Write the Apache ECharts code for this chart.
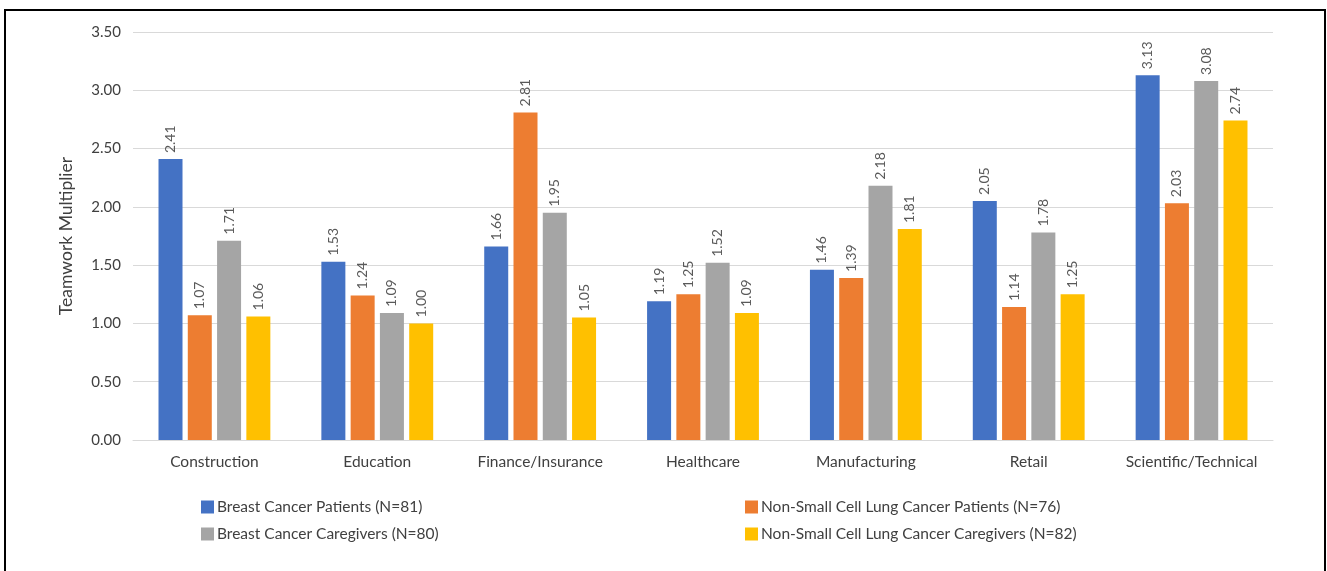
<!DOCTYPE html>
<html>
<head>
<meta charset="utf-8">
<script src="https://cdn.jsdelivr.net/npm/echarts@6/dist/echarts.min.js"></script>
<style>
  html, body { margin: 0; padding: 0; background: #fff; }
  #chart { width: 1327px; height: 571px; }
</style>
</head>
<body>
<div id="chart"></div>
<script>
const categories = ['Construction', 'Education', 'Finance/Insurance', 'Healthcare', 'Manufacturing', 'Retail', 'Scientific/Technical'];
const breastPatients = [2.41, 1.53, 1.66, 1.19, 1.46, 2.05, 3.13];
const nsclcPatients = [1.07, 1.24, 2.81, 1.25, 1.39, 1.14, 2.03];
const breastCaregivers = [1.71, 1.09, 1.95, 1.52, 2.18, 1.78, 3.08];
const nsclcCaregivers = [1.06, 1.00, 1.05, 1.09, 1.81, 1.25, 2.74];
const seriesNames = [
  'Breast Cancer Patients (N=81)',
  'Non-Small Cell Lung Cancer Patients (N=76)',
  'Breast Cancer Caregivers (N=80)',
  'Non-Small Cell Lung Cancer Caregivers (N=82)'
];
const colors = ['#4472C4', '#ED7D31', '#A5A5A5', '#FFC000'];
const FONT = 'Lato, "Open Sans", sans-serif';

const chart = echarts.init(document.getElementById('chart'));

function bar(name, data, color) {
  return {
    name: name,
    type: 'bar',
    data: data,
    barWidth: 24,
    barGap: '22%',
    itemStyle: { color: color },
    label: {
      show: true,
      position: 'top',
      rotate: 90,
      align: 'left',
      verticalAlign: 'middle',
      distance: 6,
      formatter: p => p.value.toFixed(2),
      color: '#595959',
      fontFamily: FONT,
      fontSize: 14
    }
  };
}

function legendAt(name, left, top) {
  return {
    data: [name],
    left: left,
    top: top,
    itemWidth: 13,
    itemHeight: 13,
    icon: 'rect',
    itemGap: 4,
    textStyle: { color: '#404040', fontFamily: FONT, fontSize: 15.5, padding: [0, 0, 0, -2] }
  };
}

chart.setOption({
  animation: false,
  color: colors,
  graphic: [{
    type: 'rect',
    shape: { x: 5, y: 10, width: 1320, height: 600 },
    style: { fill: 'none', stroke: '#000', lineWidth: 2 }
  }],
  grid: { left: 133, right: 54, top: 32, bottom: 131 },
  legend: [
    legendAt(seriesNames[0], 196, 494),
    legendAt(seriesNames[1], 740, 494),
    legendAt(seriesNames[2], 196, 521),
    legendAt(seriesNames[3], 740, 521)
  ],
  xAxis: {
    type: 'category',
    data: categories,
    axisLine: { lineStyle: { color: '#D9D9D9', width: 1 } },
    axisTick: { show: false },
    axisLabel: { interval: 0, hideOverlap: false, color: '#404040', fontFamily: FONT, fontSize: 15.5, margin: 14 }
  },
  yAxis: {
    type: 'value',
    min: 0,
    max: 3.5,
    interval: 0.5,
    name: 'Teamwork Multiplier',
    nameLocation: 'middle',
    nameGap: 58,
    nameTextStyle: { color: '#404040', fontFamily: FONT, fontSize: 17.5 },
    axisLine: { show: false },
    axisTick: { show: false },
    splitLine: { lineStyle: { color: '#D9D9D9', width: 1 } },
    axisLabel: {
      color: '#404040', fontFamily: FONT, fontSize: 15, margin: 12,
      formatter: v => v.toFixed(2)
    }
  },
  series: [
    bar(seriesNames[0], breastPatients, colors[0]),
    bar(seriesNames[1], nsclcPatients, colors[1]),
    bar(seriesNames[2], breastCaregivers, colors[2]),
    bar(seriesNames[3], nsclcCaregivers, colors[3])
  ]
});
</script>
</body>
</html>
